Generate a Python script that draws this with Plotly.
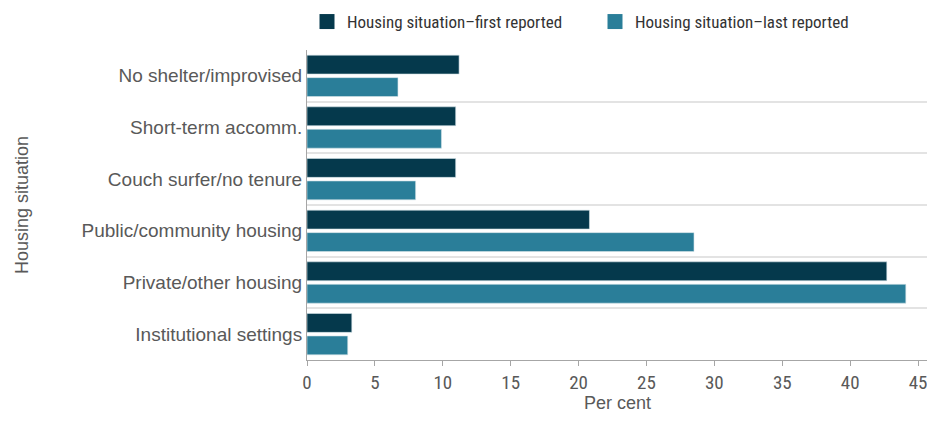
import plotly.graph_objects as go

categories = ["No shelter/improvised", "Short-term accomm.", "Couch surfer/no tenure",
              "Public/community housing", "Private/other housing", "Institutional settings"]
first_reported = [11.2, 10.95, 10.95, 20.8, 42.7, 3.3]
last_reported = [6.7, 9.9, 8.0, 28.5, 44.1, 3.0]
series_names = ["Housing situation\u2013first reported", "Housing situation\u2013last reported"]
x_ticks = [0, 5, 10, 15, 20, 25, 30, 35, 40, 45]
colors = ["#05394c", "#2a7e99"]

pos = list(range(len(categories)))
bounds = [i - 0.5 for i in range(len(categories) + 1)]

TXT = "#595959"
NARROW = "Liberation Sans Narrow, Roboto Condensed, Arial Narrow, Liberation Sans, sans-serif"
REG = "Liberation Sans, Arial, sans-serif"

# page body has an 8px margin on every side; figure sized so the page never scrolls
W, H = 919, 407
L, T = 299, 42
PW, PH = W - L, 310
B = H - T - PH
XMAX = 45.66

fig = go.Figure()
for vals, name, col in zip([first_reported, last_reported], series_names, colors):
    fig.add_trace(go.Bar(y=pos, x=vals, orientation="h", name=name, showlegend=False,
                         marker=dict(color=col, line=dict(color="#d3e2e8", width=0.6))))
for name, col in zip(series_names, colors):
    fig.add_trace(go.Scatter(x=[None], y=[None], mode="markers", name=name,
                             marker=dict(symbol="square", size=15, color=col)))

fig.update_layout(
    width=W, height=H,
    margin=dict(l=L, r=0, t=T, b=B, autoexpand=False),
    paper_bgcolor="white", plot_bgcolor="white",
    barmode="group", bargap=0.13, bargroupgap=0.16,
    showlegend=True,
    legend=dict(orientation="h", x=0.0, y=1 + (T - 14) / PH, xanchor="left", yanchor="middle",
                font=dict(family=NARROW, size=17, color="#333333"),
                itemwidth=30, entrywidth=243, entrywidthmode="pixels",
                itemclick=False),
    font=dict(family=REG, color=TXT),
    annotations=[
        dict(text="Housing situation", xref="paper", yref="paper", x=(14 - L) / PW, y=0.5,
             xanchor="center", yanchor="middle", textangle=-90, showarrow=False,
             font=dict(family=REG, size=18, color=TXT)),
        dict(text="Per cent", xref="paper", yref="paper", x=0.5, y=-(H - (T + PH)) / PH,
             xanchor="center", yanchor="bottom", showarrow=False,
             font=dict(family=REG, size=18, color=TXT)),
    ],
)
fig.update_xaxes(range=[0, XMAX], tickvals=x_ticks, showgrid=False, zeroline=False,
                 showline=True, linecolor="#a6a6a6", linewidth=1, automargin=False,
                 ticks="outside", ticklen=5, tickcolor="#a6a6a6", ticklabeloverflow="allow",
                 tickfont=dict(family=NARROW, size=19, color=TXT))
fig.update_yaxes(range=[len(categories) - 0.5, -0.5], tickvals=pos, ticktext=categories,
                 showgrid=False, zeroline=False, automargin=False,
                 showline=True, linecolor="#a6a6a6", linewidth=1,
                 ticks="",
                 tickfont=dict(family=REG, size=19, color=TXT),
                 minor=dict(tickvals=bounds, showgrid=True, gridcolor="#e3e3e3", gridwidth=1.5))

fig.write_html("out.html")
